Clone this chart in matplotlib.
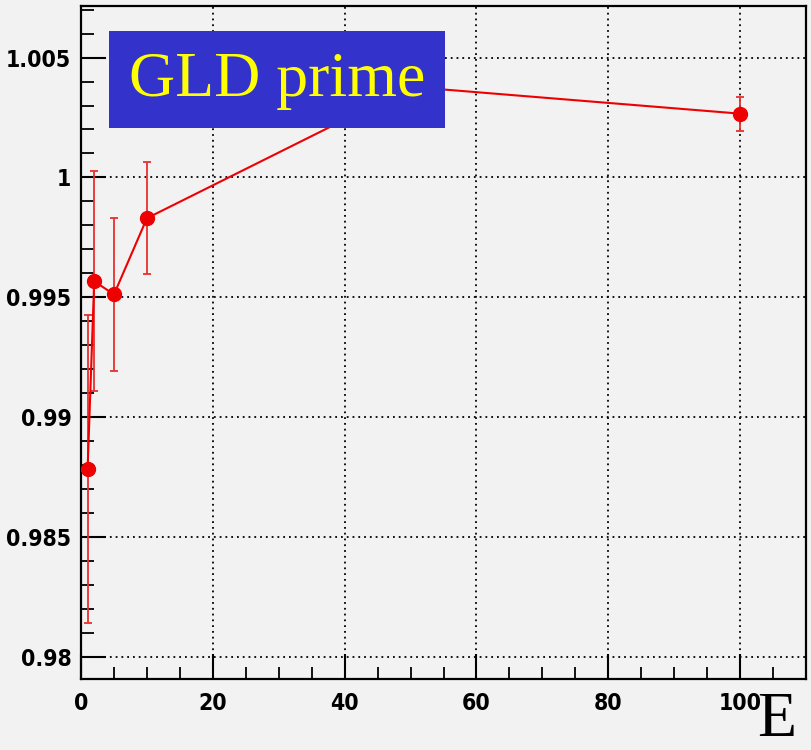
import matplotlib.pyplot as plt
from matplotlib.patches import Rectangle
from matplotlib.ticker import MultipleLocator, FuncFormatter

# beam energy and response ratio with errors
energy = [1, 2, 5, 10, 50, 100]
ratio = [0.98784, 0.99567, 0.99512, 0.99830, 1.00378, 1.00266]
ratio_err = [0.00641, 0.00459, 0.00320, 0.00234, 0.00100, 0.00071]

bg = '#f2f2f2'

fig = plt.figure(figsize=(8.11, 7.5), dpi=100, facecolor=bg)
ax = fig.add_axes([0.0999, 0.0943, 0.8940, 0.8977])
ax.set_facecolor(bg)

ax.errorbar(energy, ratio, yerr=ratio_err, fmt='-o', color='#ee0000',
            ecolor='#e83030', elinewidth=1.3, capsize=3, capthick=1.3,
            lw=1.5, ms=10, zorder=3)

ax.set_xlim(0, 110)
ax.set_ylim(0.97907, 1.00715)

ax.xaxis.set_major_locator(MultipleLocator(20))
ax.xaxis.set_minor_locator(MultipleLocator(5))
ax.yaxis.set_major_locator(MultipleLocator(0.005))
ax.yaxis.set_minor_locator(MultipleLocator(0.001))

def fmt_y(v, pos):
    return f'{v:.3f}'.rstrip('0').rstrip('.')

ax.yaxis.set_major_formatter(FuncFormatter(fmt_y))

ax.tick_params(which='major', direction='in', length=18, width=1.5, color='black', pad=7)
ax.tick_params(which='minor', direction='in', length=9, width=1.3, color='black')
ax.tick_params(axis='x', which='major', pad=9)
for lab in ax.get_xticklabels() + ax.get_yticklabels():
    lab.set_fontfamily('DejaVu Sans')
    lab.set_fontstretch('condensed')
    lab.set_fontweight('bold')
    lab.set_fontsize(16.5)

ax.grid(True, which='major', color='black', linestyle=(0, (1, 2.2)), lw=1.3)
for sp in ax.spines.values():
    sp.set_linewidth(1.6)
    sp.set_color('black')

# title box
ax.add_patch(Rectangle((0.0386, 0.8192), 0.4631, 0.1437, transform=ax.transAxes,
                       facecolor='#3333cc', edgecolor='none', zorder=5))
ax.text(0.27, 0.888, 'GLD prime', transform=ax.transAxes, ha='center', va='center',
        color='#ffff00', fontsize=46, family=['Liberation Serif', 'DejaVu Serif'],
        zorder=6)

fig.text(0.934, 0.018, 'E', color='black', fontsize=46,
         family=['Liberation Serif', 'DejaVu Serif'], ha='left', va='baseline')

fig.savefig('out.png', dpi=100, facecolor=bg)
